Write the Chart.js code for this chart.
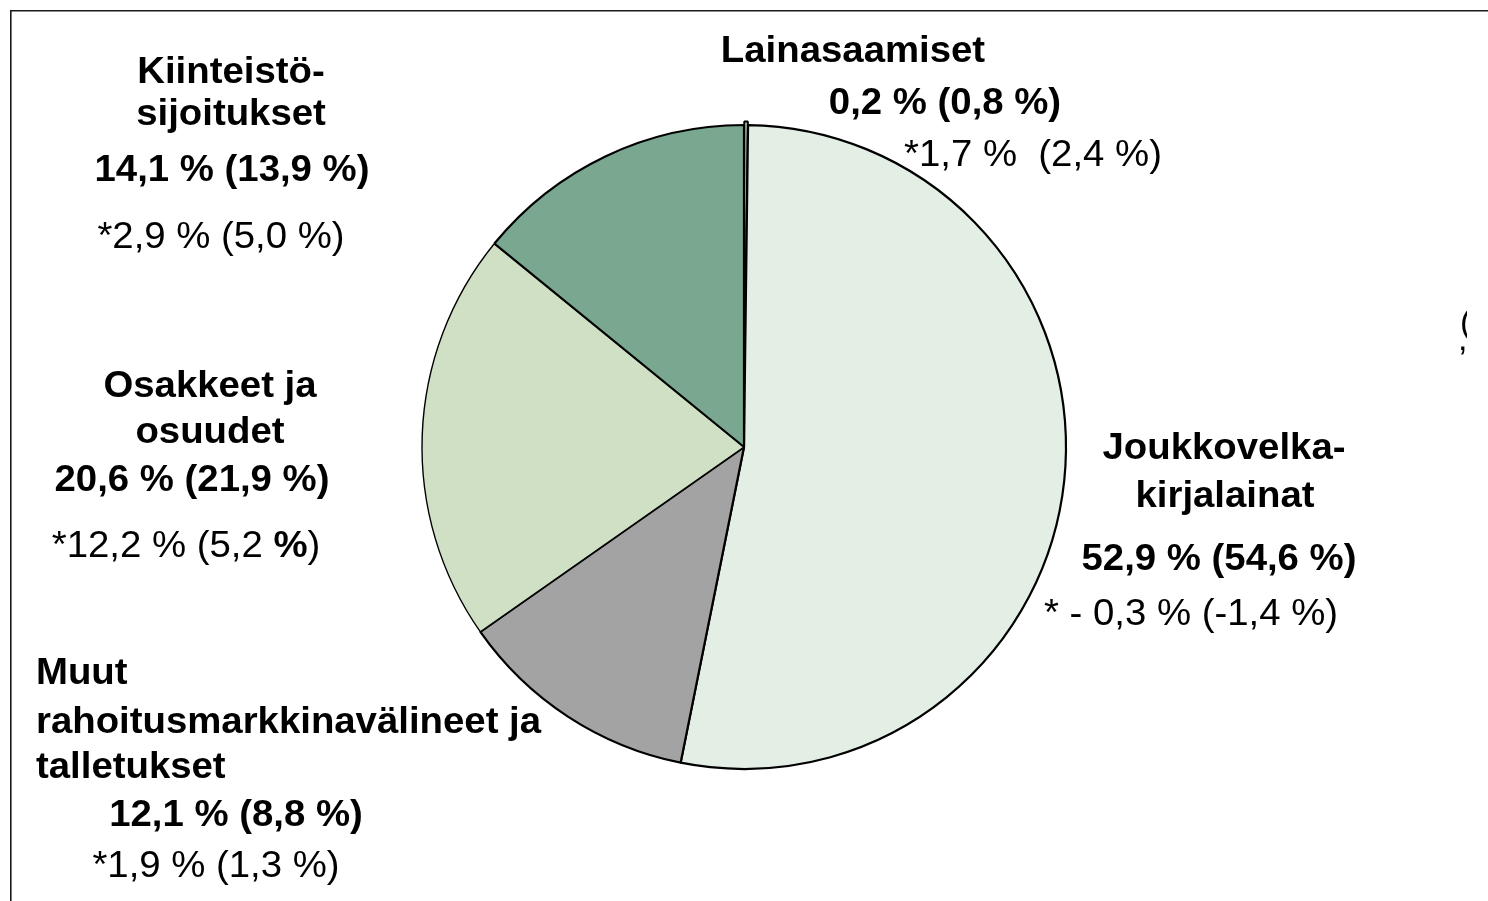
<!DOCTYPE html>
<html>
<head>
<meta charset="utf-8">
<script src="https://cdn.jsdelivr.net/npm/chart.js@4/dist/chart.umd.min.js"></script>
<style>
  html, body { margin: 0; padding: 0; background: #ffffff; }
  canvas { display: block; }
</style>
</head>
<body>
<canvas id="c" width="1488" height="901"></canvas>
<script>
// ---- data ----
const categories = [
  'Lainasaamiset',
  'Joukkovelkakirjalainat',
  'Muut rahoitusmarkkinavälineet ja talletukset',
  'Osakkeet ja osuudet',
  'Kiinteistösijoitukset'
];
const labelTitles = [
  ['Lainasaamiset'],
  ['Joukkovelka-', 'kirjalainat'],
  ['Muut', 'rahoitusmarkkinavälineet ja', 'talletukset'],
  ['Osakkeet ja', 'osuudet'],
  ['Kiinteistö-', 'sijoitukset']
];
const shares = [0.2, 52.9, 12.1, 20.6, 14.1];        // share %
const sharesPrev = [0.8, 54.6, 8.8, 21.9, 13.9];     // share % previous year
const returns = [1.7, -0.3, 1.9, 12.2, 2.9];         // * return %
const returnsPrev = [2.4, -1.4, 1.3, 5.2, 5.0];      // * return % previous year

// ---- styles ----
const colors = ['#CBDCCF', '#E3EEE5', '#A3A3A3', '#D0E0C5', '#7AA78F'];
const FONT_B = "bold 36px 'Liberation Sans', Arial, sans-serif";
const FONT_R = "36px 'Liberation Sans', Arial, sans-serif";
const SX = 1.065;

// label line positions (anchor x, baseline y, align)
const labelLayout = [
  { lines: [[853, 62], [945, 114], [1033, 166]], gap: '  ' },
  { lines: [[1224, 459], [1225, 507], [1219, 570], [1191, 625]] },
  { lines: [[36, 684, 'left'], [36, 733, 'left'], [36, 778, 'left'], [236, 826], [216, 877]] },
  { lines: [[210, 397], [210, 443], [192, 491], [186, 557]], boldLastPct: true },
  { lines: [[231, 83], [231, 125], [232, 181], [221, 248]] }
];

const fmt = v => Math.abs(v).toFixed(1).replace('.', ',');
const shareText = i => fmt(shares[i]) + ' % (' + fmt(sharesPrev[i]) + ' %)';
function returnRuns(i, gap) {
  const r = returns[i], rp = returnsPrev[i];
  const head = r < 0 ? '* - ' + fmt(r) + ' %' : '*' + fmt(r) + ' %';
  const prev = '(' + (rp < 0 ? '-' : '') + fmt(rp) + ' ';
  return [[head + (gap || ' ') + prev, false], ['%', false], [')', false]];
}

function drawRuns(ctx, runs, x, y, align) {
  ctx.save();
  let total = 0;
  runs.forEach(([t, b]) => { ctx.font = b ? FONT_B : FONT_R; total += ctx.measureText(t).width; });
  ctx.translate(x, y);
  ctx.scale(SX, 1);
  let cx = align === 'left' ? 0 : -total / 2;
  ctx.textAlign = 'left';
  ctx.textBaseline = 'alphabetic';
  runs.forEach(([t, b]) => {
    ctx.font = b ? FONT_B : FONT_R;
    ctx.fillText(t, cx, 0);
    cx += ctx.measureText(t).width;
  });
  ctx.restore();
}

const framePlugin = {
  id: 'frame',
  beforeDraw(chart) {
    const ctx = chart.ctx;
    ctx.save();
    ctx.fillStyle = '#ffffff';
    ctx.fillRect(0, 0, chart.width, chart.height);
    ctx.strokeStyle = '#1a1a1a';
    ctx.lineWidth = 1.6;
    ctx.beginPath();
    ctx.moveTo(chart.width + 2, 10.8);
    ctx.lineTo(10.8, 10.8);
    ctx.lineTo(10.8, chart.height + 2);
    ctx.stroke();
    ctx.restore();
  }
};

const labelPlugin = {
  id: 'sliceLabels',
  afterDraw(chart) {
    const ctx = chart.ctx;
    ctx.save();
    ctx.fillStyle = '#000000';
    categories.forEach((c, i) => {
      const L = labelLayout[i];
      const titles = labelTitles[i];
      const lines = [];
      titles.forEach(t => lines.push([[t, true]]));
      lines.push([[shareText(i), true]]);
      const rr = returnRuns(i, L.gap);
      if (L.boldLastPct) rr[1][1] = true;
      lines.push(rr);
      lines.forEach((runs, k) => {
        const p = L.lines[k];
        drawRuns(ctx, runs, p[0], p[1], p[2] || 'center');
      });
    });
    // clipped text fragment at the right edge
    ctx.save();
    ctx.beginPath();
    ctx.rect(0, 0, 1467, chart.height);
    ctx.clip();
    ctx.font = "34px 'Liberation Sans', Arial, sans-serif";
    ctx.textAlign = 'left';
    ctx.fillText('(', 1460, 333);
    ctx.fillText(',', 1458, 350);
    ctx.restore();
    ctx.restore();
  }
};

new Chart(document.getElementById('c'), {
  type: 'pie',
  data: {
    labels: categories,
    datasets: [{
      data: shares,
      backgroundColor: colors,
      borderColor: '#000000',
      borderWidth: [2, 2.2, 2.2, 1.4, 2.2],
      offset: [7, 0, 0, 0, 0],
      hoverOffset: 0,
      radius: 322
    }]
  },
  options: {
    responsive: false,
    animation: false,
    devicePixelRatio: 1,
    layout: { padding: { top: 0, bottom: 7, left: 0, right: 0 } },
    plugins: {
      legend: { display: false },
      tooltip: { enabled: false },
      title: { display: false }
    },
    events: []
  },
  plugins: [framePlugin, labelPlugin]
});
</script>
</body>
</html>
